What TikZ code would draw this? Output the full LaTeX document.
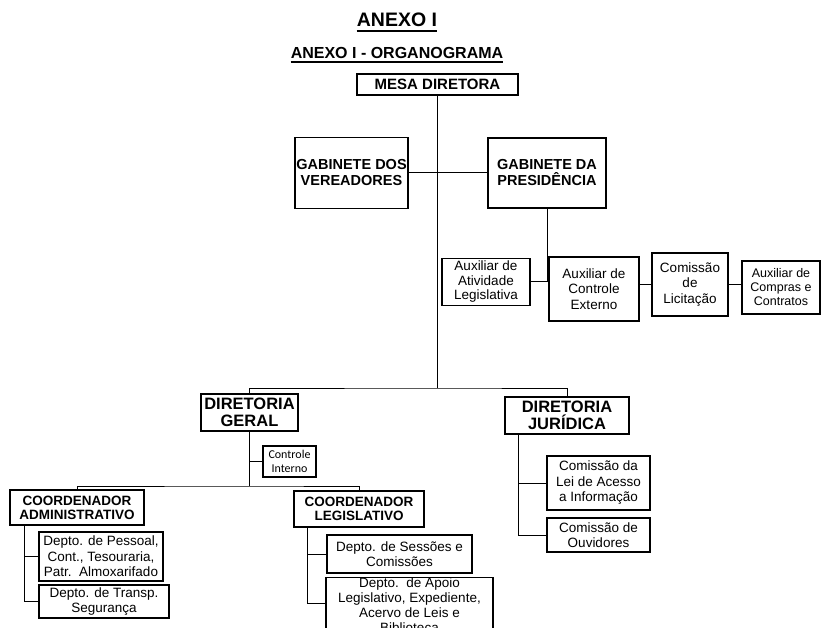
\documentclass[tikz,border=0pt]{standalone}
\usepackage{fontspec}
\setmainfont{Liberation Sans}
\newfontfamily\calibri{Carlito}
\usepackage{tikz}

\begin{document}
\begin{tikzpicture}[x=1pt,y=-1pt]
    \tikzset{Titulo/.style = {inner sep=0pt,font=\bfseries}}
    \tikzset{Caixa/.style = {shape=rectangle,draw,line width=1.2pt,align=center,inner sep=1pt,font=\fontsize{13.5}{15.5}\selectfont}}
    \tikzset{CaixaNegrito/.style = {Caixa,font=\fontsize{14.5}{16}\selectfont\bfseries}}
    \tikzset{linha/.style = {line width=1pt,black}}
    \tikzset{tronco/.style = {line width=1.8pt,black}}

    \clip (0,0) rectangle (822,628);

    %Titulos
    \node[Titulo,anchor=base,font=\fontsize{19.5}{20}\selectfont\bfseries] (anexo) at (397,27) {ANEXO I};
    \node[Titulo,anchor=base,font=\fontsize{16}{17}\selectfont\bfseries] (organograma) at (397,59) {ANEXO I - ORGANOGRAMA};
    \draw[line width=1.5pt] ([yshift=-4pt]anexo.base west) -- ([yshift=-4pt]anexo.base east);
    \draw[line width=1.2pt] ([yshift=-3pt]organograma.base west) -- ([yshift=-3pt]organograma.base east);

    \node[CaixaNegrito,font=\fontsize{15}{16}\selectfont\bfseries,minimum width=161,minimum height=21] (mesa) at (437.5,84.5) {MESA DIRETORA};

    \node[CaixaNegrito,minimum width=113,minimum height=71] (gabVereadores) at (351.5,173) {GABINETE DOS\\VEREADORES};
    \node[CaixaNegrito,minimum width=118,minimum height=70] (gabPresidencia) at (547,173) {GABINETE DA\\PRESIDÊNCIA};

    \node[Caixa,font=\fontsize{13.5}{14.5}\selectfont,minimum width=88,minimum height=47] (auxAtividade) at (486,282) {Auxiliar de\\Atividade\\Legislativa};
    \node[Caixa,minimum width=90,minimum height=64] (auxControle) at (594,289) {Auxiliar de\\Controle\\Externo};
    \node[Caixa,minimum width=76,minimum height=63] (comLicitacao) at (690,284.5) {Comissão\\de\\Licitação};
    \node[Caixa,font=\fontsize{12.5}{14}\selectfont,minimum width=78,minimum height=53] (auxCompras) at (781,287.5) {Auxiliar de\\Compras e\\Contratos};

    \node[CaixaNegrito,font=\fontsize{16.5}{17.5}\selectfont\bfseries,minimum width=97,minimum height=37] (dirGeral) at (249.5,412.5) {DIRETORIA\\GERAL};
    \node[CaixaNegrito,font=\fontsize{16.5}{17.5}\selectfont\bfseries,minimum width=124,minimum height=37] (dirJuridica) at (567,415.5) {DIRETORIA\\JURÍDICA};

    \node[Caixa,font=\fontsize{12}{14}\selectfont\calibri,minimum width=53,minimum height=31] (ctrlInterno) at (289.5,461.5) {Controle\\Interno};

    \node[CaixaNegrito,font=\fontsize{13.5}{14}\selectfont\bfseries,minimum width=134,minimum height=35] (coordAdm) at (77,507.5) {COORDENADOR\\ADMINISTRATIVO};
    \node[CaixaNegrito,font=\fontsize{13.5}{14}\selectfont\bfseries,minimum width=130,minimum height=36] (coordLeg) at (359,509) {COORDENADOR\\LEGISLATIVO};

    \node[Caixa,minimum width=124,minimum height=49] (deptoPessoal) at (101,556.5) {Depto. de Pessoal,\\Cont., Tesouraria,\\Patr.\ \ Almoxarifado};
    \node[Caixa,minimum width=130,minimum height=33] (deptoTransp) at (104,601.5) {Depto. de Transp.\\Segurança};

    \node[Caixa,minimum width=145,minimum height=38] (deptoSessoes) at (399.5,554) {Depto. de Sessões e\\Comissões};
    \node[Caixa,font=\fontsize{13.5}{15}\selectfont,minimum width=167,inner ysep=0pt,anchor=north] (deptoApoio) at (409.5,577) {Depto.\ \ de Apoio\\Legislativo, Expediente,\\Acervo de Leis e\\Biblioteca};

    \node[Caixa,minimum width=103,minimum height=54] (comLei) at (598.5,483) {Comissão da\\Lei de Acesso\\a Informação};
    \node[Caixa,minimum width=103,minimum height=34] (comOuvidores) at (598.5,535) {Comissão de\\Ouvidores};

    \coordinate (divisao) at (437.5,388);
    \coordinate (dgBaixo) at (249.5,486);
    \coordinate (caTopo) at (24,525);
    \coordinate (clTopo) at (307,527);
    \coordinate (djTopo) at (518,434);

    %Mesa ate as diretorias
    \draw[tronco] (mesa.south) -- (divisao);
    \draw[linha] (dirGeral.north) |- (divisao) -| (dirJuridica.north);

    %Gabinetes
    \draw[linha] (gabVereadores.east) -- (gabPresidencia.west);

    %Presidencia e auxiliares
    \draw[linha] (gabPresidencia.south) -- (gabPresidencia.south |- auxAtividade.east) -- (auxAtividade.east);
    \draw[linha] (auxControle.east |- comLicitacao.west) -- (comLicitacao.west);
    \draw[linha] (comLicitacao.east) -- (comLicitacao.east -| auxCompras.west);

    %Diretoria Geral
    \draw[linha] (dirGeral.south) -- (dgBaixo);
    \draw[linha] (ctrlInterno.west) -- (ctrlInterno.west -| dirGeral.south);
    \draw[linha] (coordAdm.north) |- (dgBaixo) -| (coordLeg.north);

    %Coordenadores
    \draw[linha] (caTopo) |- (deptoPessoal.west);
    \draw[linha] (caTopo) |- (deptoTransp.west);
    \draw[linha] (clTopo) |- (deptoSessoes.west);
    \draw[linha] (clTopo) |- (clTopo |- 0,603) -- (deptoApoio.west |- 0,603);

    %Diretoria Juridica
    \draw[linha] (djTopo) |- (comLei.west);
    \draw[linha] (djTopo) |- (comOuvidores.west);

\end{tikzpicture}
\end{document}
